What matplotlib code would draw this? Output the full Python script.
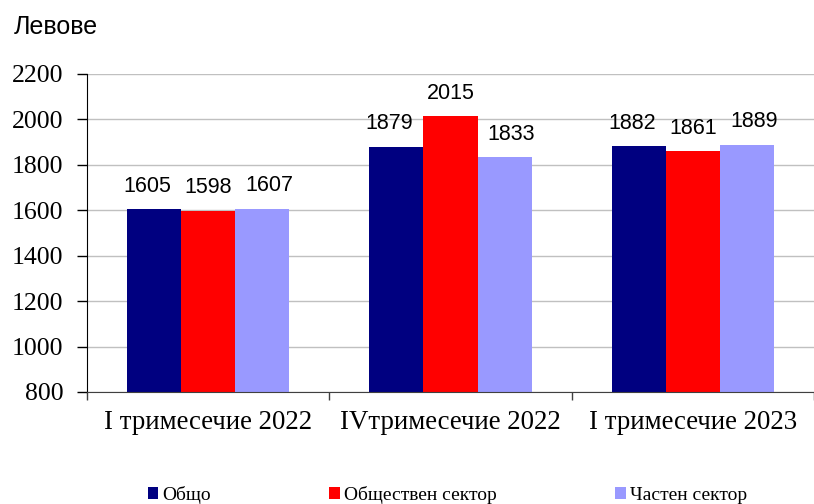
import matplotlib.pyplot as plt
import numpy as np

categories = ["I тримесечие 2022", "IVтримесечие 2022", "I тримесечие 2023"]
series_names = ["Общо", "Обществен сектор", "Частен сектор"]
total = [1605, 1879, 1882]
public_sector = [1598, 2015, 1861]
private_sector = [1607, 1833, 1889]
y_ticks = [800, 1000, 1200, 1400, 1600, 1800, 2000, 2200]
colors = ["#000080", "#ff0000", "#9999ff"]

serif = "Liberation Serif"
sans = "Liberation Sans"
plt.rcParams["font.family"] = serif

fig = plt.figure(figsize=(8.14, 5.04), dpi=100)
ax = fig.add_axes([87 / 814, 112 / 504, 1 - 87 / 814, 318 / 504])

x_values = np.arange(len(categories))
bar_width = 0.223
label_nudge = [-5, 0, 5]

ax.yaxis.grid(True, color="#c0c0c0", linewidth=1, zorder=0)
ax.set_axisbelow(True)

for i, (values, color, name) in enumerate(
    zip([total, public_sector, private_sector], colors, series_names)
):
    positions = x_values + (i - 1) * bar_width
    bars = ax.bar(positions, values, width=bar_width, color=color, label=name, zorder=2)
    for bar, value in zip(bars, values):
        ax.annotate(
            f"{value}",
            (bar.get_x() + bar.get_width() / 2, value),
            xytext=(label_nudge[i], 9),
            textcoords="offset points",
            ha="center",
            va="bottom",
            fontsize=15.5,
            family=sans,
        )

ax.set_ylim(800, 2200)
ax.set_yticks(y_ticks)
ax.set_yticklabels([str(t) for t in y_ticks], fontfamily=serif, fontsize=18.5)
ax.set_xlim(-0.5, 2.5 - 5 / 244)
ax.set_xticks(x_values)
ax.set_xticklabels(categories, fontfamily=serif, fontsize=19.4)
ax.set_xticks(np.arange(-0.5, 3, 1), minor=True)
ax.tick_params(axis="x", which="major", length=0, pad=13)
ax.tick_params(axis="x", which="minor", length=6, width=1, color="#404040")
ax.tick_params(axis="y", length=7, width=1, pad=10)

for side in ["top", "right"]:
    ax.spines[side].set_visible(False)
ax.spines["left"].set_color("black")
ax.spines["bottom"].set_color("#404040")

fig.text(14 / 814, 1 - 27 / 504, "Левове", family=sans, fontsize=18, va="center")

fig.legend(
    loc="center left",
    bbox_to_anchor=(130 / 814, 1 - 495 / 504),
    ncol=3,
    frameon=False,
    handlelength=0.55,
    handleheight=0.55,
    handletextpad=0.2,
    columnspacing=6.1,
    prop={"family": serif, "size": 14},
)

fig.savefig("out.png", dpi=100)
